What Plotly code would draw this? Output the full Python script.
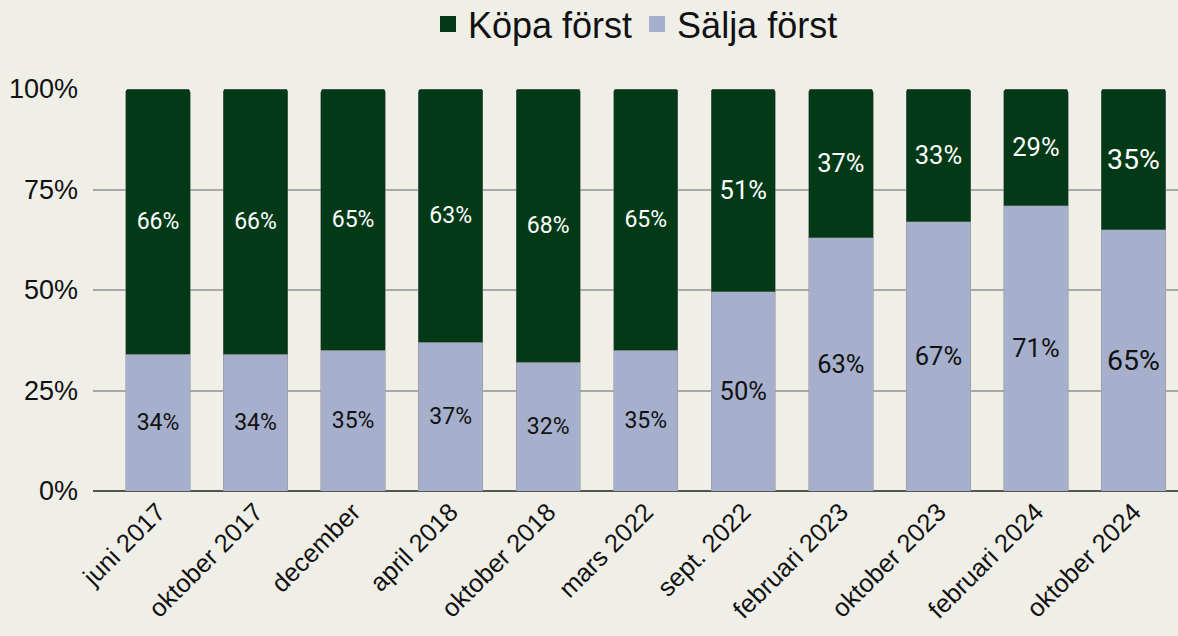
import plotly.graph_objects as go

# survey rounds
categories = ["juni 2017", "oktober 2017", "december", "april 2018", "oktober 2018",
              "mars 2022", "sept. 2022", "februari 2023", "oktober 2023",
              "februari 2024", "oktober 2024"]
salja_forst = [34, 34, 35, 37, 32, 35, 50, 63, 67, 71, 65]
kopa_forst = [66, 66, 65, 63, 68, 65, 51, 37, 33, 29, 35]
y_ticks = [0, 25, 50, 75, 100]
y_tick_labels = ["0%", "25%", "50%", "75%", "100%"]

# label sizes differ a bit between bars in the original
label_sizes = [23, 23, 23, 23, 23, 23, 25.5, 25.5, 25.5, 25.5, 28.5]

green = "#023A17"
lavender = "#A6AFCB"
bg = "#EFEFE8"

fig = go.Figure()
fig.add_trace(go.Bar(
    x=categories, y=salja_forst, name="Sälja först", showlegend=False,
    marker=dict(color=lavender, line=dict(color="#9A9A9A", width=0.6)),
    text=[f"{v}%" for v in salja_forst], textposition="inside",
    insidetextanchor="middle", textangle=0,
    textfont=dict(color="#111111", size=label_sizes, family="Roboto"),
))
fig.add_trace(go.Bar(
    x=categories, y=kopa_forst, name="Köpa först", showlegend=False,
    marker=dict(color=green, line=dict(color="#6A6A6A", width=0.6)),
    text=[f"{v}%" for v in kopa_forst], textposition="inside",
    insidetextanchor="middle", textangle=0,
    textfont=dict(color="white", size=label_sizes, family="Roboto"),
))

# legend entries with bigger square swatches
for name, col in [("Köpa först", green), ("Sälja först", lavender)]:
    fig.add_trace(go.Scatter(x=[None], y=[None], mode="markers", name=name,
                             marker=dict(symbol="square", size=20, color=col)))

fig.update_layout(
    width=1178, height=636,
    barmode="stack", barnorm="percent", bargap=0.34,
    barcornerradius=3,
    paper_bgcolor=bg, plot_bgcolor=bg,
    margin=dict(l=93, r=0, t=89, b=145, autoexpand=False),
    font=dict(family="Liberation Sans, Arial", color="#111111"),
    uniformtext=dict(mode=False),
    legend=dict(orientation="h", x=0.5, xanchor="center", yref="container",
                y=0.962, yanchor="middle", traceorder="normal",
                font=dict(size=36), itemwidth=30),
    showlegend=True,
)
fig.update_xaxes(range=[-0.666, 10.456], tickangle=-45, tickfont=dict(size=25.5),
                 showgrid=False, ticks="", showline=False, automargin=False)
fig.update_yaxes(range=[0, 100], tickvals=y_ticks, ticktext=y_tick_labels,
                 tickfont=dict(size=27), showgrid=True, gridcolor="#A8A8A8",
                 gridwidth=1.5, zeroline=True, zerolinecolor="#555555", zerolinewidth=1.5,
                 ticks="", ticklabelstandoff=14, automargin=False)

fig.write_html("out.html", config={"displayModeBar": False},
               post_script="document.body.style.margin='0';")
